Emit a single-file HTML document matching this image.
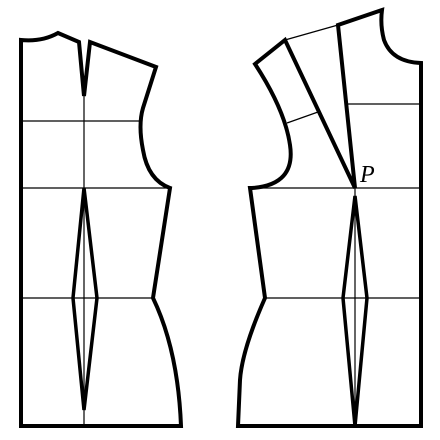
<!DOCTYPE html>
<html><head><meta charset="utf-8"><style>html,body{margin:0;padding:0;background:#fff}svg{display:block}</style></head>
<body>
<svg width="440" height="440" viewBox="0 0 440 440">
<g fill="none" stroke="#000" stroke-linejoin="miter">
 <g>
  <g stroke-width="1.2">
   <line x1="21" y1="121" x2="141" y2="121"/>
   <line x1="21" y1="188" x2="170" y2="188"/>
   <line x1="21" y1="298" x2="153" y2="298"/>
   <line x1="84" y1="96" x2="84" y2="426"/>
  </g>
  <path stroke-width="4" d="M21,426 L21,40 Q42,42 58,33 L79,42 L84,96 L90,42 L156,67 L143,108 Q138,125 143,150 Q148,180 170,188 L153,298 Q178,350 181,426 Z"/>
  <path stroke-width="3.5" d="M84,188 L73,298 L84,410 L97,298 Z"/>
 </g>
 <g>
  <g stroke-width="1.2">
   <line x1="348" y1="104" x2="421" y2="104"/>
   <line x1="252" y1="188" x2="421" y2="188"/>
   <line x1="265" y1="298" x2="421" y2="298"/>
   <line x1="355" y1="188" x2="355" y2="426"/>
   <line x1="285" y1="40" x2="338" y2="25"/>
   <line x1="287" y1="123" x2="318" y2="112"/>
  </g>
  <path stroke-width="4" d="M421,426 L421,63 Q392,62 384,40 Q380,25 382,10 L338,25 L355,188 L285,40 L255,64 Q285,110 290,145 Q296,185 252,188 L250,188 L265,298 Q242,350 240,380 L238,426 Z"/>
  <path stroke-width="3.5" d="M355,196 L343,298 L355,426 L367,298 Z"/>
 </g>
</g>
<text x="360" y="182" font-family="Liberation Serif, serif" font-style="italic" font-size="24">P</text>
</svg>
</body></html>
